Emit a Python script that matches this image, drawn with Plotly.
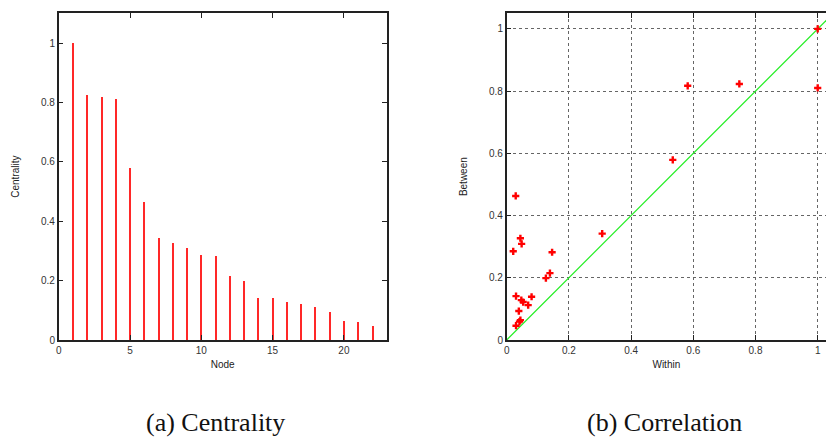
import plotly.graph_objects as go

# ---- data ----
nodes = list(range(1, 23))
centrality = [1.0, 0.823, 0.817, 0.811, 0.578, 0.462, 0.341, 0.326, 0.308, 0.284, 0.281,
              0.215, 0.198, 0.141, 0.139, 0.128, 0.121, 0.111, 0.093, 0.064, 0.061, 0.046]

within = [1.0, 0.582, 0.748, 1.0, 0.534, 0.307, 0.029, 0.021, 0.044, 0.048, 0.146,
          0.139, 0.126, 0.030, 0.080, 0.047, 0.053, 0.069, 0.039, 0.044, 0.041, 0.030]
between = [1.0, 0.817, 0.823, 0.810, 0.579, 0.342, 0.463, 0.285, 0.327, 0.309, 0.282,
           0.215, 0.199, 0.141, 0.139, 0.128, 0.122, 0.112, 0.093, 0.064, 0.059, 0.046]

diag = [0, 1.1]

left_ticks = [0, 5, 10, 15, 20]
unit_ticks = [0, 0.2, 0.4, 0.6, 0.8, 1]

W, H = 826, 441

fig = go.Figure()

fig.add_trace(go.Bar(x=nodes, y=centrality, width=0.1,
                     marker=dict(color="rgb(255,40,40)", line=dict(width=0)),
                     xaxis="x", yaxis="y", showlegend=False))

fig.add_trace(go.Scatter(x=diag, y=diag, mode="lines",
                         line=dict(color="#22ee22", width=1.2),
                         xaxis="x2", yaxis="y2", showlegend=False))
fig.add_trace(go.Scatter(x=within, y=between, mode="markers",
                         marker=dict(symbol="cross", size=6, color="#ff0000",
                                     line=dict(width=0)),
                         xaxis="x2", yaxis="y2", showlegend=False, cliponaxis=False))

tickfont = dict(family="Liberation Sans", size=10, color="#333")
titlefont = dict(family="Liberation Sans", size=10, color="#222")
axline = dict(showline=True, linecolor="#222", linewidth=1.5, ticks="inside",
              ticklen=5, tickwidth=1.2, tickcolor="#222", tickfont=tickfont,
              zeroline=False, automargin=False)

fig.update_layout(
    width=W, height=H,
    margin=dict(l=0, r=0, t=0, b=0),
    paper_bgcolor="white", plot_bgcolor="white",
    bargap=0,
    xaxis=dict(domain=[58.7 / W, 386.7 / W], range=[0, 23], tickvals=left_ticks,
               mirror="ticks", showgrid=False, anchor="y",
               title=dict(text="Node", font=titlefont, standoff=6), **axline),
    yaxis=dict(domain=[1 - 340 / H, 1 - 13.3 / H], range=[0, 1.1], tickvals=unit_ticks,
               mirror="ticks", showgrid=False, anchor="x",
               title=dict(text="Centrality", font=titlefont, standoff=20), **axline),
    xaxis2=dict(domain=[506.7 / W, 1.0], range=[0, 319.3 / 311], tickvals=unit_ticks,
                mirror="ticks", showgrid=True, gridcolor="#666", griddash="dot",
                gridwidth=1, anchor="y2",
                title=dict(text="Within", font=titlefont, standoff=6), **axline),
    yaxis2=dict(domain=[1 - 340 / H, 1 - 13.3 / H], range=[0, 1.05], tickvals=unit_ticks,
                mirror=False, showgrid=True, gridcolor="#666", griddash="dot",
                gridwidth=1, anchor="x2",
                title=dict(text="Between", font=titlefont, standoff=20), **axline),
)

capfont = dict(family="Liberation Serif", size=26, color="#111")
fig.add_annotation(text="(a) Centrality", x=215 / W, y=1 - 422 / H, xref="paper", yref="paper",
                   showarrow=False, font=capfont, xanchor="center", yanchor="middle")
fig.add_annotation(text="(b) Correlation", x=664.5 / W, y=1 - 422 / H, xref="paper", yref="paper",
                   showarrow=False, font=capfont, xanchor="center", yanchor="middle")

fig.write_html("out.html", config={"displayModeBar": False},
               post_script="document.body.style.margin='0';document.body.style.overflow='hidden';")
